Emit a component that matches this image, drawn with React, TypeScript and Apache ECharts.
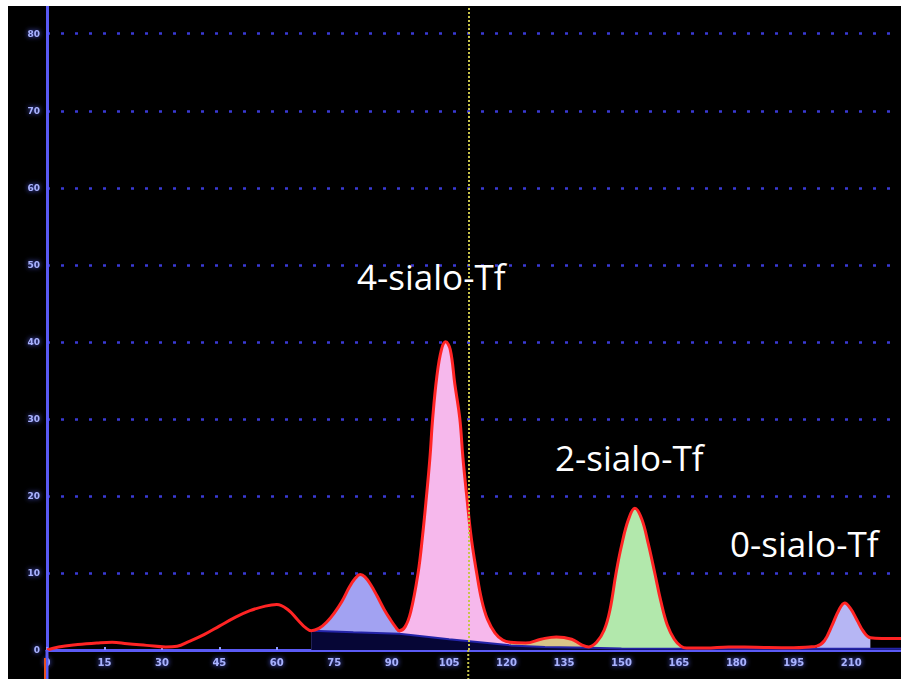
import { useEffect, useRef } from "react";
import * as echarts from "echarts";

// Capillary electrophoresis trace of transferrin glycoforms (retention time vs. signal)
const traceTime = [
  0, 3, 8, 13, 17, 21, 26, 31, 34, 37, 41, 45, 49, 53, 57, 60, 63, 65.5, 67.5, 69,
  71, 73, 75, 77, 79, 80.5, 81.8, 83, 84.5, 86.2, 88, 89.6, 91, 92,
  93.5, 95, 96.9, 98, 99.1, 100, 100.7, 101.8, 103, 104.1, 105.3, 106.5, 107.8, 108.6, 109.6, 110.8, 112.2, 113.5, 115, 117, 119, 121,
  125, 129, 133, 137, 139.5, 141.5,
  143.5, 145.5, 147, 148.6, 150, 151.8, 153.5, 155.3, 157, 158.7, 160.3, 162, 163.8, 165.5, 167,
  172, 178, 185, 195, 199, 201, 203, 205, 206.8, 208.3, 209.8, 211.5, 213.2, 215, 218, 223,
];
const traceSignal = [
  0, 0.4, 0.7, 0.9, 1.0, 0.8, 0.6, 0.4, 0.5, 1.1, 2.0, 3.1, 4.2, 5.1, 5.7, 5.9, 5.2, 3.9, 2.9, 2.5,
  2.8, 3.6, 4.8, 6.3, 8.2, 9.3, 9.8, 9.5, 8.5, 7.0, 5.3, 4.0, 3.0, 2.5,
  3.0, 5.0, 10, 14.5, 20, 25, 30, 35.5, 39, 40, 39, 34.5, 30, 25, 20, 14.5, 10, 6.5, 4.0, 2.2, 1.3, 1.0,
  0.9, 1.4, 1.7, 1.4, 0.7, 0.4,
  1.0, 2.6, 5.2, 10, 13.5, 16.9, 18.4, 17.0, 13.8, 10, 6.3, 3.2, 1.4, 0.5, 0.25,
  0.25, 0.4, 0.35, 0.3, 0.4, 0.5, 1.2, 3.2, 5.2, 6.1, 5.4, 3.9, 2.4, 1.6, 1.5, 1.5,
];

// Integration baseline drawn under the resolved peaks
const baselineTime = [69, 80, 92, 105, 115, 121, 130, 141.5, 150, 223];
const baselineSignal = [2.5, 2.3, 2.1, 1.4, 0.9, 0.6, 0.4, 0.3, 0.2, 0.15];

// Integrated peak windows (start / end retention time)
const bandStart = [69, 92, 121, 141.5, 201];
const bandEnd = [92, 121, 141.5, 167, 215];

const peakLabels = ["4-sialo-Tf", "2-sialo-Tf", "0-sialo-Tf"];
const markerTime = 110;
const timeMax = 223;
const signalMax = 83.6;

const bandColors = ["#a2a2f2", "#f6b8ec", "#d8c488", "#b2e8ac", "#b6b6f4"];

const toPairs = (xs: number[], ys: number[]) => xs.map((x, i) => [x, ys[i]]);

export default function App() {
  const ref = useRef<HTMLDivElement>(null);

  useEffect(() => {
    if (!ref.current) return;
    const chart = echarts.init(ref.current, undefined, { renderer: "svg" });
    const trace = toPairs(traceTime, traceSignal);
    const gridLeft = 39;
    const gridBottom = 29;
    const H = 673;

    const fills = bandStart.map((s, i) => ({
      type: "line",
      data: trace.filter(([x]) => x >= s && x <= bandEnd[i]),
      smooth: 0.4,
      symbol: "none",
      silent: true,
      lineStyle: { width: 0 },
      areaStyle: { color: bandColors[i], opacity: 1 },
      z: 1,
    }));

    const tickLabel = {
      color: "#a8b2ff",
      fontSize: 10,
      fontWeight: "bold",
      fontFamily: "DejaVu Sans",
      textShadowColor: "#5a66ff",
      textShadowBlur: 5,
    };

    chart.setOption({
      animation: false,
      backgroundColor: "#000",
      grid: { left: gridLeft, right: 0, top: 0, bottom: gridBottom },
      xAxis: {
        type: "value",
        min: 0,
        max: timeMax,
        interval: 15,
        axisLine: { show: true, lineStyle: { color: "#5a5af4", width: 3 } },
        axisTick: { show: true, inside: true, length: 3, lineStyle: { color: "#8c98ff", width: 2 } },
        axisLabel: { ...tickLabel, margin: 7, showMaxLabel: false },
        splitLine: { show: false },
      },
      yAxis: {
        type: "value",
        min: 0,
        max: signalMax,
        interval: 10,
        axisLine: { show: true, lineStyle: { color: "#5a5af4", width: 3 } },
        axisTick: { show: false },
        axisLabel: { ...tickLabel, fontSize: 9, margin: 7, showMaxLabel: false },
        splitLine: {
          show: true,
          showMinLine: false,
          showMaxLine: false,
          lineStyle: { color: "#3a3ad4", width: 2.5, type: [3, 11] },
        },
      },
      series: [
        ...fills,
        {
          type: "line",
          data: toPairs(baselineTime, baselineSignal),
          symbol: "none",
          silent: true,
          lineStyle: { color: "#2424a8", width: 2 },
          areaStyle: { color: "#060636", opacity: 1 },
          z: 2,
        },
        {
          type: "line",
          data: trace,
          smooth: 0.4,
          symbol: "none",
          lineStyle: { color: "#ff2424", width: 3 },
          z: 3,
          markLine: {
            silent: true,
            symbol: "none",
            label: { show: false },
            lineStyle: { color: "#c8c44a", width: 2, type: [2, 2] },
            data: [{ xAxis: markerTime }],
          },
        },
      ],
    });

    const mx = chart.convertToPixel({ xAxisIndex: 0 }, markerTime) as number;
    const axisY = H - gridBottom;
    const textFont = '35px "Open Sans"';

    chart.setOption({
      graphic: [
        {
          type: "line",
          shape: { x1: gridLeft, y1: axisY, x2: gridLeft, y2: H },
          style: { stroke: "#5a5af4", lineWidth: 3 },
          z: 5,
        },
        {
          type: "line",
          shape: { x1: gridLeft - 2, y1: axisY + 8, x2: gridLeft - 2, y2: H },
          style: { stroke: "#e8501e", lineWidth: 2 },
          z: 6,
        },
        {
          type: "line",
          shape: { x1: mx, y1: axisY, x2: mx, y2: H },
          style: { stroke: "#c8c44a", lineWidth: 2, lineDash: [2, 2] },
          z: 5,
        },
        {
          type: "text",
          x: 349,
          y: 270,
          style: { text: peakLabels[0], fill: "#ffffff", font: textFont, textVerticalAlign: "middle" },
          z: 10,
        },
        {
          type: "text",
          x: 547,
          y: 451,
          style: { text: peakLabels[1], fill: "#ffffff", font: textFont, textVerticalAlign: "middle" },
          z: 10,
        },
        {
          type: "text",
          x: 722,
          y: 537,
          style: { text: peakLabels[2], fill: "#ffffff", font: textFont, textVerticalAlign: "middle" },
          z: 10,
        },
      ],
    });

    return () => chart.dispose();
  }, []);

  return (
    <div
      ref={ref}
      style={{ position: "absolute", left: 8, top: 6, width: 893, height: 673, background: "#000" }}
    />
  );
}
